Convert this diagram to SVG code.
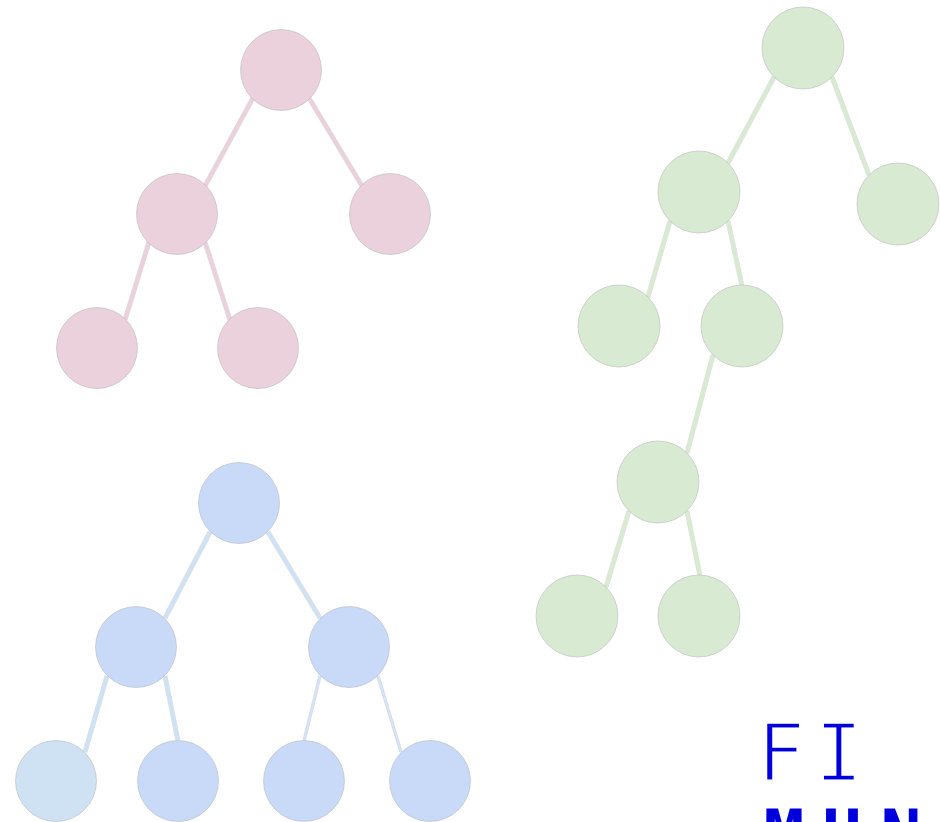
<svg xmlns="http://www.w3.org/2000/svg" width="940" height="822" viewBox="0 0 940 822">
  <style>
    .node { stroke: #b8b8b8; stroke-width: 0.8; stroke-opacity: 0.7; }
    .pink { fill: #ead1dc; }
    .green { fill: #d9ead3; }
    .blue { fill: #c9daf8; }
    .lblue { fill: #cfe2f3; }
    .edge-out { stroke: #bdbdbd; stroke-opacity: 0.45; stroke-width: 5; fill: none; }
    .edge { stroke-width: 4; fill: none; }
    .thin-out { stroke: #a9b3c6; stroke-opacity: 0.5; stroke-width: 3.2; fill: none; }
    .thin { stroke-width: 2.2; fill: none; stroke: #d6e2f8; }
    .ep { stroke: #ead1dc; }
    .eg { stroke: #d9ead3; }
    .eb { stroke: #cfe2f3; }
    .glyph { font-family: "DejaVu Sans Mono", "Liberation Mono", monospace; font-size: 81px; fill: #0000dd; text-anchor: middle; }
    .light { stroke: #ffffff; stroke-width: 3; }
    .heavy { font-weight: bold; font-size: 68px; }
  </style>

  <!-- tree connectors: each edge leaves the parent rim and meets the child rim -->
  <g id="connectors">
    <!-- pink tree -->
    <g>
      <line class="edge-out" x1="253" y1="98" x2="205" y2="186"/>
      <line class="edge-out" x1="309" y1="98" x2="362" y2="186"/>
      <line class="edge-out" x1="149" y1="242" x2="125" y2="320"/>
      <line class="edge-out" x1="205" y1="242" x2="230" y2="320"/>
      <line class="edge ep" x1="253" y1="98" x2="205" y2="186"/>
      <line class="edge ep" x1="309" y1="98" x2="362" y2="186"/>
      <line class="edge ep" x1="149" y1="242" x2="125" y2="320"/>
      <line class="edge ep" x1="205" y1="242" x2="230" y2="320"/>
    </g>
    <!-- green tree -->
    <g>
      <line class="edge-out" x1="774" y1="77" x2="728" y2="163"/>
      <line class="edge-out" x1="832" y1="77" x2="869" y2="175"/>
      <line class="edge-out" x1="670" y1="221" x2="648" y2="297"/>
      <line class="edge-out" x1="728" y1="221" x2="742" y2="286"/>
      <line class="edge-out" x1="713" y1="355" x2="687" y2="453"/>
      <line class="edge-out" x1="629" y1="511" x2="606" y2="587"/>
      <line class="edge-out" x1="687" y1="511" x2="700" y2="576"/>
      <line class="edge eg" x1="774" y1="77" x2="728" y2="163"/>
      <line class="edge eg" x1="832" y1="77" x2="869" y2="175"/>
      <line class="edge eg" x1="670" y1="221" x2="648" y2="297"/>
      <line class="edge eg" x1="728" y1="221" x2="742" y2="286"/>
      <line class="edge eg" x1="713" y1="355" x2="687" y2="453"/>
      <line class="edge eg" x1="629" y1="511" x2="606" y2="587"/>
      <line class="edge eg" x1="687" y1="511" x2="700" y2="576"/>
    </g>
    <!-- blue tree -->
    <g>
      <line class="edge-out" x1="210" y1="532" x2="165" y2="618"/>
      <line class="edge-out" x1="268" y1="532" x2="320" y2="618"/>
      <line class="edge-out" x1="107" y1="676" x2="85" y2="752"/>
      <line class="edge-out" x1="165" y1="676" x2="178" y2="741"/>
      <line class="thin-out" x1="320" y1="676" x2="304" y2="741"/>
      <line class="thin-out" x1="378" y1="676" x2="401" y2="752"/>
      <line class="edge eb" x1="210" y1="532" x2="165" y2="618"/>
      <line class="edge eb" x1="268" y1="532" x2="320" y2="618"/>
      <line class="edge eb" x1="107" y1="676" x2="85" y2="752"/>
      <line class="edge eb" x1="165" y1="676" x2="178" y2="741"/>
      <line class="thin" x1="320" y1="676" x2="304" y2="741"/>
      <line class="thin" x1="378" y1="676" x2="401" y2="752"/>
    </g>
  </g>

  <!-- pink tree nodes -->
  <g id="p-root"><circle class="node pink" cx="281" cy="70" r="40.5"/></g>
  <g id="p-left"><circle class="node pink" cx="177" cy="214" r="40.5"/></g>
  <g id="p-right"><circle class="node pink" cx="390" cy="214" r="40.5"/></g>
  <g id="p-left-left"><circle class="node pink" cx="97" cy="348" r="40.5"/></g>
  <g id="p-left-right"><circle class="node pink" cx="258" cy="348" r="40.5"/></g>

  <!-- green tree nodes -->
  <g id="g-root"><circle class="node green" cx="803" cy="48" r="41"/></g>
  <g id="g-left"><circle class="node green" cx="699" cy="192" r="41"/></g>
  <g id="g-right"><circle class="node green" cx="898" cy="204" r="41"/></g>
  <g id="g-left-left"><circle class="node green" cx="619" cy="326" r="41"/></g>
  <g id="g-left-right"><circle class="node green" cx="742" cy="326" r="41"/></g>
  <g id="g-lr-child"><circle class="node green" cx="658" cy="482" r="41"/></g>
  <g id="g-lrc-left"><circle class="node green" cx="577" cy="616" r="41"/></g>
  <g id="g-lrc-right"><circle class="node green" cx="699" cy="616" r="41"/></g>

  <!-- blue tree nodes -->
  <g id="b-root"><circle class="node blue" cx="239" cy="503" r="40.5"/></g>
  <g id="b-left"><circle class="node blue" cx="136" cy="647" r="40.5"/></g>
  <g id="b-right"><circle class="node blue" cx="349" cy="647" r="40.5"/></g>
  <g id="b-left-left"><circle class="node lblue" cx="56" cy="781" r="40.5"/></g>
  <g id="b-left-right"><circle class="node blue" cx="178" cy="781" r="40.5"/></g>
  <g id="b-right-left"><circle class="node blue" cx="304" cy="781" r="40.5"/></g>
  <g id="b-right-right"><circle class="node blue" cx="430" cy="781" r="40.5"/></g>

  <!-- letter grid -->
  <g id="letters">
    <text class="glyph light" x="781" y="781">F</text>
    <text class="glyph light" x="839" y="781">I</text>
    <text class="glyph heavy" x="784" y="858">M</text>
    <text class="glyph heavy" x="842" y="858">H</text>
    <text class="glyph heavy" x="901" y="858">N</text>
  </g>
</svg>
